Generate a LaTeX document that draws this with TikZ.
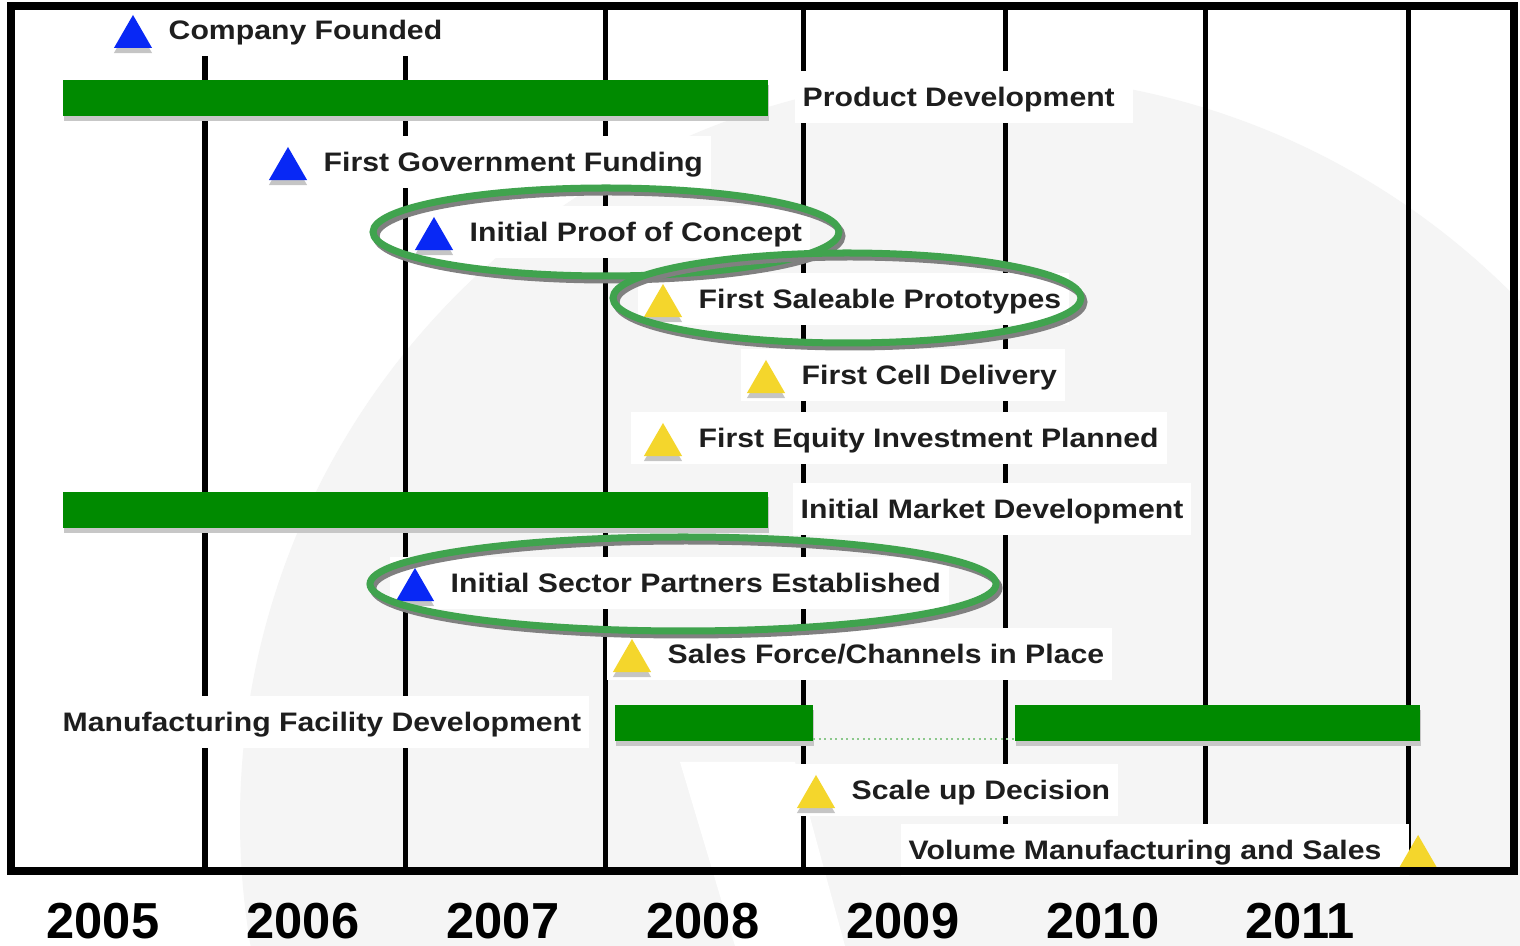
\documentclass[tikz,border=0pt]{standalone}
\usepackage{fontspec}
\setmainfont{Liberation Sans}
\newfontfamily\lblfont[FakeStretch=1.13]{Liberation Sans}
\usepackage{xcolor}
\usepackage{tikz}
\usetikzlibrary{shapes.geometric,shadows}

\definecolor{bargreen}{RGB}{0,138,0}
\definecolor{ringgreen}{RGB}{64,163,78}
\definecolor{msblue}{RGB}{8,40,245}
\definecolor{msyellow}{RGB}{244,214,44}
\definecolor{lblgray}{RGB}{30,30,30}
\definecolor{markgray}{RGB}{245,245,245}
\definecolor{dotgreen}{RGB}{140,200,140}

\tikzset{
  gridline/.style={line width=0.05cm},
  mlabel/.style={fill=white, anchor=west, inner xsep=0.08cm, inner ysep=0cm,
    minimum height=0.52cm, text height=0.25cm, text depth=0.06cm, text=lblgray,
    font=\lblfont\bfseries\fontsize{7.6pt}{9pt}\selectfont},
  msmark/.style={regular polygon, regular polygon sides=3, minimum size=0.44cm, inner sep=0pt,
    drop shadow={shadow xshift=0cm, shadow yshift=-0.05cm, fill=gray, opacity=0.45}},
  gbar/.style={fill=bargreen, anchor=west, inner sep=0pt, outer sep=0pt, minimum height=0.36cm,
    drop shadow={shadow xshift=0.01cm, shadow yshift=-0.05cm, fill=black!22, opacity=1}},
  gaplink/.style={draw=dotgreen, densely dotted, line width=0.02cm},
  ring/.style={draw=ringgreen, line width=0.07cm},
  ringshadow/.style={draw=gray, line width=0.07cm},
  year/.style={font=\bfseries\fontsize{14.4pt}{16pt}\selectfont}
}

\begin{document}
\begin{tikzpicture}[x=0.01cm, y=-0.01cm]
\useasboundingbox (0,0) rectangle (1520,946);
\fill[white] (0,0) rectangle (1520,946);

% faint watermark
\begin{scope}
\clip (0,0) rectangle (1520,946);
\fill[markgray] (985,820) circle [radius=745];
\fill[white] (680,762) -- (795,762) -- (845,946) -- (735,946) -- cycle;
\end{scope}

% year dividers
\draw[gridline] (205,6) -- (205,871);
\draw[gridline] (405,6) -- (405,871);
\draw[gridline] (605,6) -- (605,871);
\draw[gridline] (803,6) -- (803,871);
\draw[gridline] (1005,6) -- (1005,871);
\draw[gridline] (1205,6) -- (1205,871);
\draw[gridline] (1408,6) -- (1408,871);

% activity bars
\node[gbar, minimum width=7.05cm] (prodBar) at (63,98) {};
\node[gbar, minimum width=7.05cm] (mktBar) at (63,510) {};
\node[gbar, minimum width=1.98cm] (mfgBarA) at (615,723) {};
\node[gbar, minimum width=4.05cm] (mfgBarB) at (1015,723) {};
\draw[gaplink] ([yshift=0.02cm]mfgBarA.south east) -- ([yshift=0.02cm]mfgBarB.south west);

% labels and milestones
\node[mlabel] (founded) at (107,30) {\hspace*{0.53cm}Company Founded};
\node[msmark, fill=msblue] (foundedMark) at ([shift={(26,7)}]founded.west) {};
\node[mlabel] (prodDev) at (794,97) {Product Development\hspace*{0.1cm}};
\node[mlabel] (govFunding) at (262,162) {\hspace*{0.53cm}First Government Funding};
\node[msmark, fill=msblue] (govFundingMark) at ([shift={(26,7)}]govFunding.west) {};
\node[mlabel] (proof) at (408,232) {\hspace*{0.53cm}Initial Proof of Concept};
\node[msmark, fill=msblue] (proofMark) at ([shift={(26,7)}]proof.west) {};
\node[mlabel] (saleable) at (637,299) {\hspace*{0.53cm}First Saleable Prototypes};
\node[msmark, fill=msyellow] (saleableMark) at ([shift={(26,7)}]saleable.west) {};
\node[mlabel] (cellDel) at (740,375) {\hspace*{0.53cm}First Cell Delivery};
\node[msmark, fill=msyellow] (cellDelMark) at ([shift={(26,7)}]cellDel.west) {};
\node[mlabel] (equity) at (630,438) {\hspace*{0.6cm}First Equity Investment Planned};
\node[msmark, fill=msyellow] (equityMark) at ([shift={(33,7)}]equity.west) {};
\node[mlabel] (mktDev) at (792,509) {Initial Market Development};
\node[mlabel] (partners) at (389,583) {\hspace*{0.53cm}Initial Sector Partners Established};
\node[msmark, fill=msblue] (partnersMark) at ([shift={(26,7)}]partners.west) {};
\node[mlabel] (salesForce) at (606,654) {\hspace*{0.53cm}Sales Force/Channels in Place};
\node[msmark, fill=msyellow] (salesForceMark) at ([shift={(26,7)}]salesForce.west) {};
\node[mlabel] (mfgDev) at (54,722) {Manufacturing Facility Development};
\node[mlabel] (scaleUp) at (790,790) {\hspace*{0.53cm}Scale up Decision};
\node[msmark, fill=msyellow] (scaleUpMark) at ([shift={(26,7)}]scaleUp.west) {};
\node[mlabel] (volume) at (900,850) {Volume Manufacturing and Sales\hspace*{0.2cm}};
\node[msmark, fill=msyellow] (volumeMark) at ([shift={(8,7)}]volume.east) {};

% highlight rings
\draw[ringshadow] (609,236) ellipse [x radius=233, y radius=44];
\draw[ring] (606,232) ellipse [x radius=233, y radius=44];
\draw[ringshadow] (850,302) ellipse [x radius=234, y radius=45];
\draw[ring] (847,298) ellipse [x radius=234, y radius=45];
\draw[ringshadow] (686,588) ellipse [x radius=313, y radius=47];
\draw[ring] (683,584) ellipse [x radius=313, y radius=47];

% frame
\draw[line width=0.075cm] (11,6) rectangle (1514,871);

% years
\node[year] (y2005) at (103,921) {2005};
\node[year] (y2006) at (303,921) {2006};
\node[year] (y2007) at (503,921) {2007};
\node[year] (y2008) at (703,921) {2008};
\node[year] (y2009) at (903,921) {2009};
\node[year] (y2010) at (1103,921) {2010};
\node[year] (y2011) at (1300,921) {2011};
\end{tikzpicture}
\end{document}
